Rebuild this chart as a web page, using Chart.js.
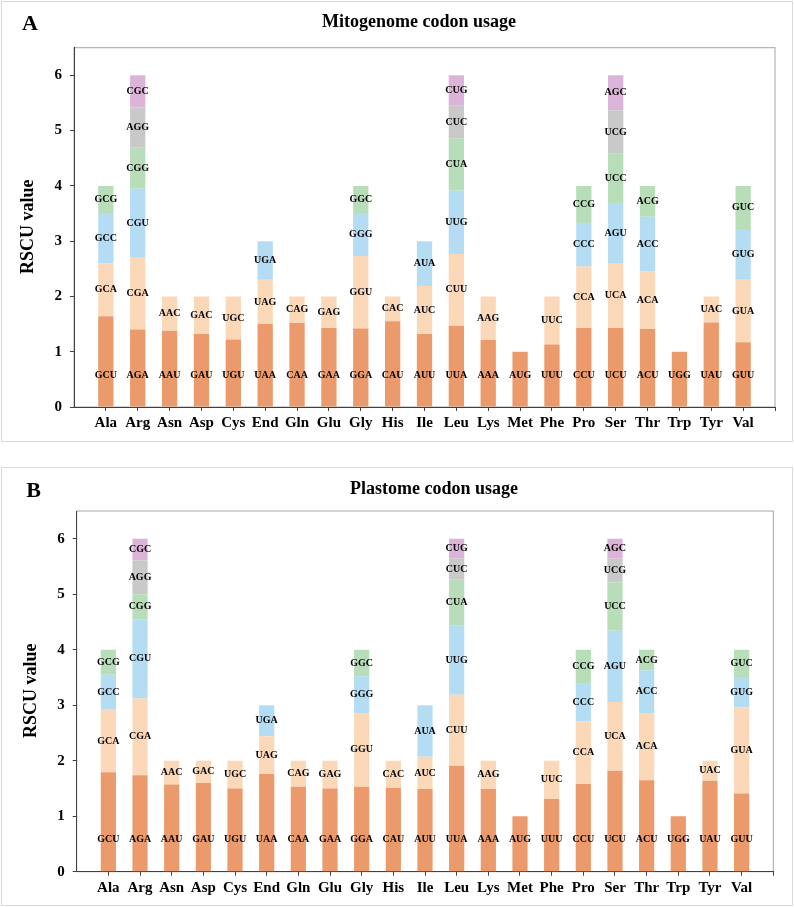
<!DOCTYPE html>
<html lang="en">
<head>
  <meta charset="UTF-8" />
  <title>Codon usage RSCU</title>
  <script src="https://cdn.jsdelivr.net/npm/chart.js"></script>
  <style>
    body {
      margin: 0;
      background: #ffffff;
      font-family: "Liberation Serif", serif;
    }
    .panel {
      position: absolute;
      left: 1px;
      width: 790px;
      border: 1px solid #d9d9d9;
      background: #fff;
    }
    #panelA { top: 1px; height: 439px; }
    #panelB { top: 467px; height: 437px; }
  </style>
</head>
<body>

  <div class="panel" id="panelA"><canvas id="mitoChart"></canvas></div>
  <div class="panel" id="panelB"><canvas id="plastChart"></canvas></div>

  <script>
    const aminoAcids = ['Ala', 'Arg', 'Asn', 'Asp', 'Cys', 'End', 'Gln', 'Glu', 'Gly', 'His', 'Ile',
                        'Leu', 'Lys', 'Met', 'Phe', 'Pro', 'Ser', 'Thr', 'Trp', 'Tyr', 'Val'];

    // codons of each amino acid, bottom segment first
    const codons = [
      ['GCU', 'GCA', 'GCC', 'GCG'],
      ['AGA', 'CGA', 'CGU', 'CGG', 'AGG', 'CGC'],
      ['AAU', 'AAC'],
      ['GAU', 'GAC'],
      ['UGU', 'UGC'],
      ['UAA', 'UAG', 'UGA'],
      ['CAA', 'CAG'],
      ['GAA', 'GAG'],
      ['GGA', 'GGU', 'GGG', 'GGC'],
      ['CAU', 'CAC'],
      ['AUU', 'AUC', 'AUA'],
      ['UUA', 'CUU', 'UUG', 'CUA', 'CUC', 'CUG'],
      ['AAA', 'AAG'],
      ['AUG'],
      ['UUU', 'UUC'],
      ['CCU', 'CCA', 'CCC', 'CCG'],
      ['UCU', 'UCA', 'AGU', 'UCC', 'UCG', 'AGC'],
      ['ACU', 'ACA', 'ACC', 'ACG'],
      ['UGG'],
      ['UAU', 'UAC'],
      ['GUU', 'GUA', 'GUG', 'GUC']
    ];

    // RSCU values, same order as codons
    const mitoRSCU = [
      [1.64, 0.96, 0.91, 0.49],
      [1.40, 1.30, 1.25, 0.75, 0.72, 0.58],
      [1.38, 0.62],
      [1.32, 0.68],
      [1.22, 0.78],
      [1.50, 0.80, 0.70],
      [1.52, 0.48],
      [1.43, 0.57],
      [1.42, 1.31, 0.78, 0.49],
      [1.55, 0.45],
      [1.32, 0.87, 0.81],
      [1.47, 1.30, 1.14, 0.95, 0.59, 0.55],
      [1.21, 0.79],
      [1.00],
      [1.13, 0.87],
      [1.43, 1.11, 0.79, 0.67],
      [1.43, 1.16, 1.10, 0.89, 0.79, 0.63],
      [1.41, 1.04, 0.99, 0.56],
      [1.00],
      [1.53, 0.47],
      [1.17, 1.13, 0.92, 0.78]
    ];

    const plastRSCU = [
      [1.79, 1.13, 0.63, 0.45],
      [1.74, 1.38, 1.43, 0.45, 0.61, 0.39],
      [1.57, 0.43],
      [1.60, 0.40],
      [1.50, 0.50],
      [1.76, 0.68, 0.56],
      [1.53, 0.47],
      [1.50, 0.50],
      [1.53, 1.33, 0.66, 0.48],
      [1.51, 0.49],
      [1.49, 0.58, 0.93],
      [1.91, 1.28, 1.25, 0.82, 0.39, 0.35],
      [1.49, 0.51],
      [1.00],
      [1.31, 0.69],
      [1.58, 1.13, 0.69, 0.60],
      [1.82, 1.24, 1.28, 0.87, 0.43, 0.36],
      [1.65, 1.21, 0.77, 0.37],
      [1.00],
      [1.64, 0.36],
      [1.41, 1.55, 0.55, 0.49]
    ];

    const segmentColors = ['#EB9A6B', '#FBD8B8', '#B4DCF3', '#B7DEB9', '#C9C9C9', '#DCB4DA'];
    const FONT = '"Liberation Serif", "Times New Roman", serif';
    const bottomLabelAt = 0.58;   // first codon label sits at a fixed height

    // one dataset per stack level; x = position of the amino acid (1..21)
    function buildDatasets(values) {
      const sets = [];
      for (let k = 0; k < 6; k++) {
        const pts = [];
        const names = [];
        values.forEach((vals, i) => {
          if (k < vals.length) {
            pts.push({ x: i + 1, y: vals[k] });
            names.push(codons[i][k]);
          }
        });
        sets.push({
          data: pts,
          codons: names,
          backgroundColor: segmentColors[k],
          borderWidth: 0,
          barPercentage: 0.6,
          categoryPercentage: 0.8
        });
      }
      return sets;
    }

    const codonLabels = {
      id: 'codonLabels',
      afterDatasetsDraw(chart) {
        const ctx = chart.ctx;
        const y = chart.scales.y;
        ctx.save();
        ctx.font = 'bold 10px ' + FONT;
        ctx.fillStyle = '#000';
        ctx.textAlign = 'center';
        ctx.textBaseline = 'middle';
        chart.data.datasets.forEach((ds, k) => {
          chart.getDatasetMeta(k).data.forEach((bar, j) => {
            const cy = k === 0 ? y.getPixelForValue(bottomLabelAt) : (bar.y + bar.base) / 2;
            ctx.fillText(ds.codons[j], bar.x, cy);
          });
        });
        ctx.restore();
      }
    };

    // plot frame, panel letter, title, y title
    const panelDeco = {
      id: 'panelDeco',
      beforeDraw(chart, args, opts) {
        const { ctx, chartArea } = chart;
        ctx.save();
        ctx.strokeStyle = '#a6a6a6';
        ctx.lineWidth = 1;
        ctx.strokeRect(chartArea.left, chartArea.top, chartArea.right - chartArea.left, chartArea.bottom - chartArea.top);
        ctx.restore();
      },
      afterDraw(chart, args, opts) {
        const ctx = chart.ctx;
        ctx.save();
        ctx.fillStyle = '#000';
        ctx.textAlign = 'center';
        ctx.textBaseline = 'middle';
        ctx.font = 'bold 22px ' + FONT;
        ctx.fillText(opts.letter, opts.letterPos[0], opts.letterPos[1]);
        ctx.font = 'bold 18px ' + FONT;
        ctx.fillText(opts.title, opts.titlePos[0], opts.titlePos[1]);
        ctx.translate(opts.yTitlePos[0], opts.yTitlePos[1]);
        ctx.rotate(-Math.PI / 2);
        ctx.fillText('RSCU value', 0, 0);
        ctx.restore();
      }
    };

    function makeChart(canvasId, values, geo) {
      return new Chart(document.getElementById(canvasId), {
        type: 'bar',
        data: { datasets: buildDatasets(values) },
        plugins: [panelDeco, codonLabels],
        options: {
          responsive: true,
          maintainAspectRatio: false,
          animation: false,
          layout: { padding: { top: geo.top, right: geo.right, left: 0, bottom: 0 } },
          plugins: {
            legend: { display: false },
            tooltip: { enabled: false },
            panelDeco: geo
          },
          scales: {
            x: {
              type: 'linear',
              stacked: true,
              offset: false,
              min: 0,
              max: aminoAcids.length + 1,
              afterBuildTicks: s => { s.ticks = s.ticks.filter(t => t.value >= 1); },
              afterFit: s => { s.height = geo.xHeight; },
              ticks: {
                stepSize: 1,
                autoSkip: false,
                maxRotation: 0,
                padding: 3,
                color: '#000',
                font: { family: FONT, size: 15, weight: 'bold' },
                callback: v => aminoAcids[v - 1] || ''
              },
              grid: { display: true, offset: false, drawOnChartArea: false, tickLength: 4, color: '#404040' },
              border: { display: true, color: '#404040', width: 1 }
            },
            y: {
              stacked: true,
              min: 0,
              max: 6.5,
              afterBuildTicks: s => { s.ticks = s.ticks.filter(t => Number.isInteger(t.value)); },
              afterFit: s => { s.width = geo.yWidth; },
              ticks: {
                stepSize: 1,
                padding: 8,
                color: '#000',
                font: { family: FONT, size: 15, weight: 'bold' }
              },
              grid: { display: true, drawOnChartArea: false, tickLength: 4, color: '#404040' },
              border: { display: true, color: '#404040', width: 1 }
            }
          }
        }
      });
    }

    makeChart('mitoChart', mitoRSCU, {
      top: 45.7, right: 17, yWidth: 72, xHeight: 34,
      letter: 'A', letterPos: [28, 22],
      title: 'Mitogenome codon usage', titlePos: [417, 20],
      yTitlePos: [26.3, 224.7]
    });

    makeChart('plastChart', plastRSCU, {
      top: 43, right: 18.7, yWidth: 74.7, xHeight: 33.3,
      letter: 'B', letterPos: [31.5, 23.7],
      title: 'Plastome codon usage', titlePos: [432, 21],
      yTitlePos: [29.7, 222.8]
    });
  </script>
</body>
</html>
